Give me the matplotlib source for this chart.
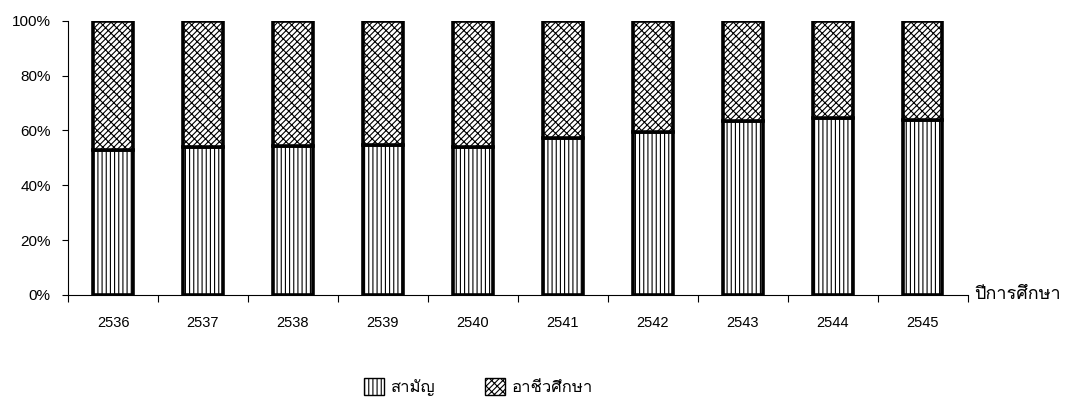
import matplotlib

matplotlib.use("Agg")
import matplotlib.pyplot as plt
from matplotlib import font_manager
from matplotlib.ft2font import FT2Font
from matplotlib.patches import Patch

years = ["2536", "2537", "2538", "2539", "2540", "2541", "2542", "2543", "2544", "2545"]
general_pct = [52.9, 54.1, 54.4, 54.7, 54.1, 57.2, 59.6, 63.5, 64.7, 63.9]
vocational_pct = [100 - v for v in general_pct]
labels = ["สามัญ", "อาชีวศึกษา"]
x_title = "ปีการศึกษา"

VERT = "||||"
BRICK = "/" * 6 + "\\" * 3


def thai_family():
    # look for any installed font that actually has Thai glyphs
    for f in font_manager.fontManager.ttflist:
        try:
            if ord("ก") in FT2Font(f.fname).get_charmap():
                return f.name
        except Exception:
            continue
    return "DejaVu Sans"


plt.rcParams["font.family"] = ["Liberation Sans", thai_family(), "DejaVu Sans"]
plt.rcParams["hatch.linewidth"] = 0.8

fig = plt.figure(figsize=(10.8, 4.16), dpi=100)
ax = fig.add_axes([0.063, 0.291, 0.833, 0.659])

x = range(len(years))
ax.bar(x, general_pct, width=0.44, color="white", edgecolor="black",
       linewidth=2.6, hatch=VERT)
ax.bar(x, vocational_pct, bottom=general_pct, width=0.44, color="white",
       edgecolor="black", linewidth=2.6, hatch=BRICK)

ax.set_xlim(-0.5, len(years) - 0.5)
ax.set_ylim(0, 100)
ax.set_yticks(range(0, 101, 20))
ax.set_yticklabels([f"{v}%" for v in range(0, 101, 20)], fontsize=11)
ax.set_xticks([i - 0.5 for i in range(len(years) + 1)])
ax.set_xticklabels([])
ax.set_xticks(list(x), minor=True)
ax.set_xticklabels(years, minor=True, fontsize=10.5)
ax.tick_params(axis="x", which="minor", length=0, pad=15)
ax.tick_params(axis="x", which="major", length=5, direction="out")
ax.tick_params(axis="y", length=4.5, direction="out", pad=8)
for s in ["top", "right"]:
    ax.spines[s].set_visible(False)

fig.text(0.902, 0.293, x_title, fontsize=13, ha="left", va="center")

handles = [Patch(facecolor="white", edgecolor="black", hatch=VERT),
           Patch(facecolor="white", edgecolor="black", hatch=BRICK)]
fig.legend(handles, labels, loc="center", ncol=2, frameon=False,
           bbox_to_anchor=(0.443, 0.07), fontsize=12, handlelength=1.2,
           handleheight=1.2, columnspacing=3.0, handletextpad=0.4)

fig.savefig("out.png", dpi=100)
